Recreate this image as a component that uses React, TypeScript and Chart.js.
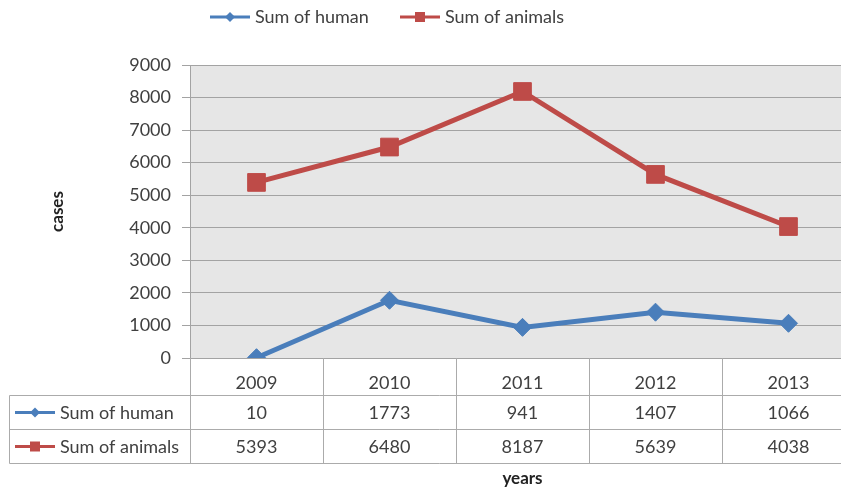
import React, { useEffect, useRef } from 'react';
import { Chart, registerables } from 'chart.js';

Chart.register(...registerables);

const years = ['2009', '2010', '2011', '2012', '2013'];
const humanLabel = 'Sum of human';
const animalsLabel = 'Sum of animals';
const human = [10, 1773, 941, 1407, 1066];
const animals = [5393, 6480, 8187, 5639, 4038];
const yMin = 0;
const yMax = 9000;
const yStep = 1000;
const xTitle = 'years';
const yTitle = 'cases';

const BLUE = '#4a7ebb';
const RED = '#be4b48';
const TEXT = '#404040';
const FONT = 'Lato';
const FS = 18;

const W = 870;
const H = 492;

function drawKey(ctx: CanvasRenderingContext2D, x0: number, x1: number, y: number, color: string, shape: 'diamond' | 'square', lw: number, size: number) {
  ctx.save();
  ctx.strokeStyle = color;
  ctx.fillStyle = color;
  ctx.lineWidth = lw;
  ctx.beginPath();
  ctx.moveTo(x0, y);
  ctx.lineTo(x1, y);
  ctx.stroke();
  const cx = (x0 + x1) / 2;
  ctx.beginPath();
  if (shape === 'diamond') {
    ctx.moveTo(cx - size, y);
    ctx.lineTo(cx, y - size);
    ctx.lineTo(cx + size, y);
    ctx.lineTo(cx, y + size);
    ctx.closePath();
  } else {
    ctx.rect(cx - size, y - size, size * 2, size * 2);
  }
  ctx.fill();
  ctx.restore();
}

const tablePlugin = {
  id: 'tablePlugin',
  beforeDraw(chart: any) {
    const { ctx, chartArea: a } = chart;
    ctx.save();
    ctx.fillStyle = '#e6e6e6';
    ctx.fillRect(a.left, a.top, a.right - a.left, a.bottom - a.top);
    ctx.restore();
  },
  afterDraw(chart: any) {
    const { ctx, chartArea: a } = chart;
    const xs = chart.scales.x;
    const n = years.length;
    const colW = (a.right - a.left) / n;
    const r1 = 395.5, r2 = 429.5, r3 = 463.5, tl = 9.5;
    ctx.save();
    ctx.strokeStyle = '#ababab';
    ctx.lineWidth = 1;
    const line = (x0: number, y0: number, x1: number, y1: number) => {
      ctx.beginPath();
      ctx.moveTo(x0, y0);
      ctx.lineTo(x1, y1);
      ctx.stroke();
    };
    line(tl, r1, W, r1);
    line(tl, r2, W, r2);
    line(tl, r3, W, r3);
    line(tl, r1, tl, r3);
    for (let k = 0; k <= n; k++) {
      const xx = Math.round(a.left + k * colW) + 0.5;
      line(xx, a.bottom, xx, r3);
    }
    const rows = [
      { label: humanLabel, data: human, color: BLUE, shape: 'diamond' as const, size: 5, y: (r1 + r2) / 2 + 1 },
      { label: animalsLabel, data: animals, color: RED, shape: 'square' as const, size: 5, y: (r2 + r3) / 2 + 1 },
    ];
    ctx.font = `${FS}px ${FONT}`;
    ctx.fillStyle = TEXT;
    ctx.textBaseline = 'middle';
    rows.forEach((row) => {
      drawKey(ctx, 15, 55, row.y - 1, row.color, row.shape, 3, row.size);
      ctx.fillStyle = TEXT;
      ctx.textAlign = 'left';
      ctx.fillText(row.label, 60, row.y);
      ctx.textAlign = 'center';
      row.data.forEach((v, j) => {
        ctx.fillText(String(v), xs.getPixelForValue(j), row.y);
      });
    });
    // legend at top
    const ly = 17;
    drawKey(ctx, 210, 250, ly, BLUE, 'diamond', 3, 5);
    drawKey(ctx, 400, 440, ly, RED, 'square', 3, 5);
    ctx.fillStyle = TEXT;
    ctx.textAlign = 'left';
    ctx.fillText(humanLabel, 255, ly);
    ctx.fillText(animalsLabel, 445, ly);
    ctx.restore();
  },
};

export default function App() {
  const ref = useRef<HTMLCanvasElement>(null);
  useEffect(() => {
    let chart: Chart | null = null;
    let cancelled = false;
    const make = () => {
      if (cancelled || !ref.current) return;
      Chart.defaults.font.family = FONT;
      chart = new Chart(ref.current, {
        type: 'line',
        data: {
          labels: years,
          datasets: [
            {
              label: humanLabel,
              data: human,
              borderColor: BLUE,
              backgroundColor: BLUE,
              borderWidth: 5,
              pointStyle: 'rectRot',
              pointRadius: 9,
              pointBorderWidth: 1,
              tension: 0,
            },
            {
              label: animalsLabel,
              data: animals,
              borderColor: RED,
              backgroundColor: RED,
              borderWidth: 5,
              pointStyle: 'rect',
              pointRadius: 12.5,
              pointBorderWidth: 1,
              tension: 0,
            },
          ],
        },
        options: {
          responsive: false,
          animation: false,
          devicePixelRatio: 1,
          layout: { padding: { top: 65, right: 15, left: 0, bottom: 0 } },
          plugins: { legend: { display: false }, tooltip: { enabled: false } },
          scales: {
            x: {
              offset: true,
              grid: { display: false },
              border: { display: false },
              ticks: { color: TEXT, font: { size: FS, family: FONT }, padding: 6, maxRotation: 0 },
              title: { display: true, text: xTitle, color: '#222', font: { size: 17, weight: 'bold', family: FONT }, padding: { bottom: 3, top: 0 } },
              afterFit: (s: any) => { s.height = H - 358; },
            },
            y: {
              min: yMin,
              max: yMax,
              ticks: { stepSize: yStep, color: TEXT, font: { size: FS, family: FONT }, padding: 11, callback: (v: any) => String(v) },
              grid: { color: '#a3a3a3', lineWidth: 1, tickLength: 8, tickColor: '#a3a3a3' },
              border: { display: true, color: '#a3a3a3' },
              title: { display: true, text: yTitle, color: '#222', font: { size: 17, weight: 'bold', family: FONT }, padding: { top: 47, bottom: 0 } },
              afterFit: (s: any) => { s.width = 190; },
            },
          },
        },
        plugins: [tablePlugin],
      } as any);
    };
    if ((document as any).fonts && (document as any).fonts.load) {
      Promise.all([
        (document as any).fonts.load(`${FS}px ${FONT}`),
        (document as any).fonts.load(`bold 17px ${FONT}`),
      ]).then(make, make);
    } else {
      make();
    }
    return () => {
      cancelled = true;
      if (chart) chart.destroy();
    };
  }, []);
  return (
    <div style={{ position: 'fixed', left: 0, top: 0, width: 841, height: H, overflow: 'hidden', background: '#fff' }}>
      <canvas ref={ref} width={W} height={H} style={{ width: W, height: H, display: 'block' }} />
    </div>
  );
}
